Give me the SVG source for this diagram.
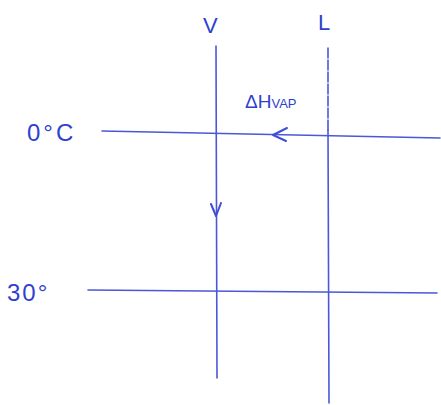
<svg xmlns="http://www.w3.org/2000/svg" width="441" height="405" viewBox="0 0 441 405">
<style>
.ln{stroke:#4b58d6;stroke-width:1.6;fill:none;stroke-linecap:round}
.ar{stroke:#3f4ed4;stroke-width:2;fill:none;stroke-linecap:round;stroke-linejoin:round}
.t{font-family:"Liberation Sans",Arial,sans-serif;fill:#2f3fd0}
</style>
<rect width="441" height="405" fill="#ffffff"/>
<g id="labels">
<text class="t" x="203" y="33" font-size="22">V</text>
<text class="t" x="318" y="30" font-size="22">L</text>
<text class="t" x="245" y="108" font-size="19">ΔH<tspan font-size="13">VAP</tspan></text>
<text class="t" x="27" y="141" font-size="24" letter-spacing="3">0°C</text>
<text class="t" x="7" y="301" font-size="24" letter-spacing="2">30°</text>
</g>
<g id="connectors">
<path class="ln" d="M216 46 L217 378"/>
<path class="ln" d="M328 48 L328 130" stroke-dasharray="10 2"/>
<path class="ln" d="M328 130 L329 403"/>
<path class="ln" d="M102 131 L440 138"/>
<path class="ln" d="M88 290 L437 293"/>
<path class="ar" d="M287 128 L273 135 L286 141"/>
<path class="ar" d="M211 204 L216 216 L221 203"/>
</g>
</svg>
